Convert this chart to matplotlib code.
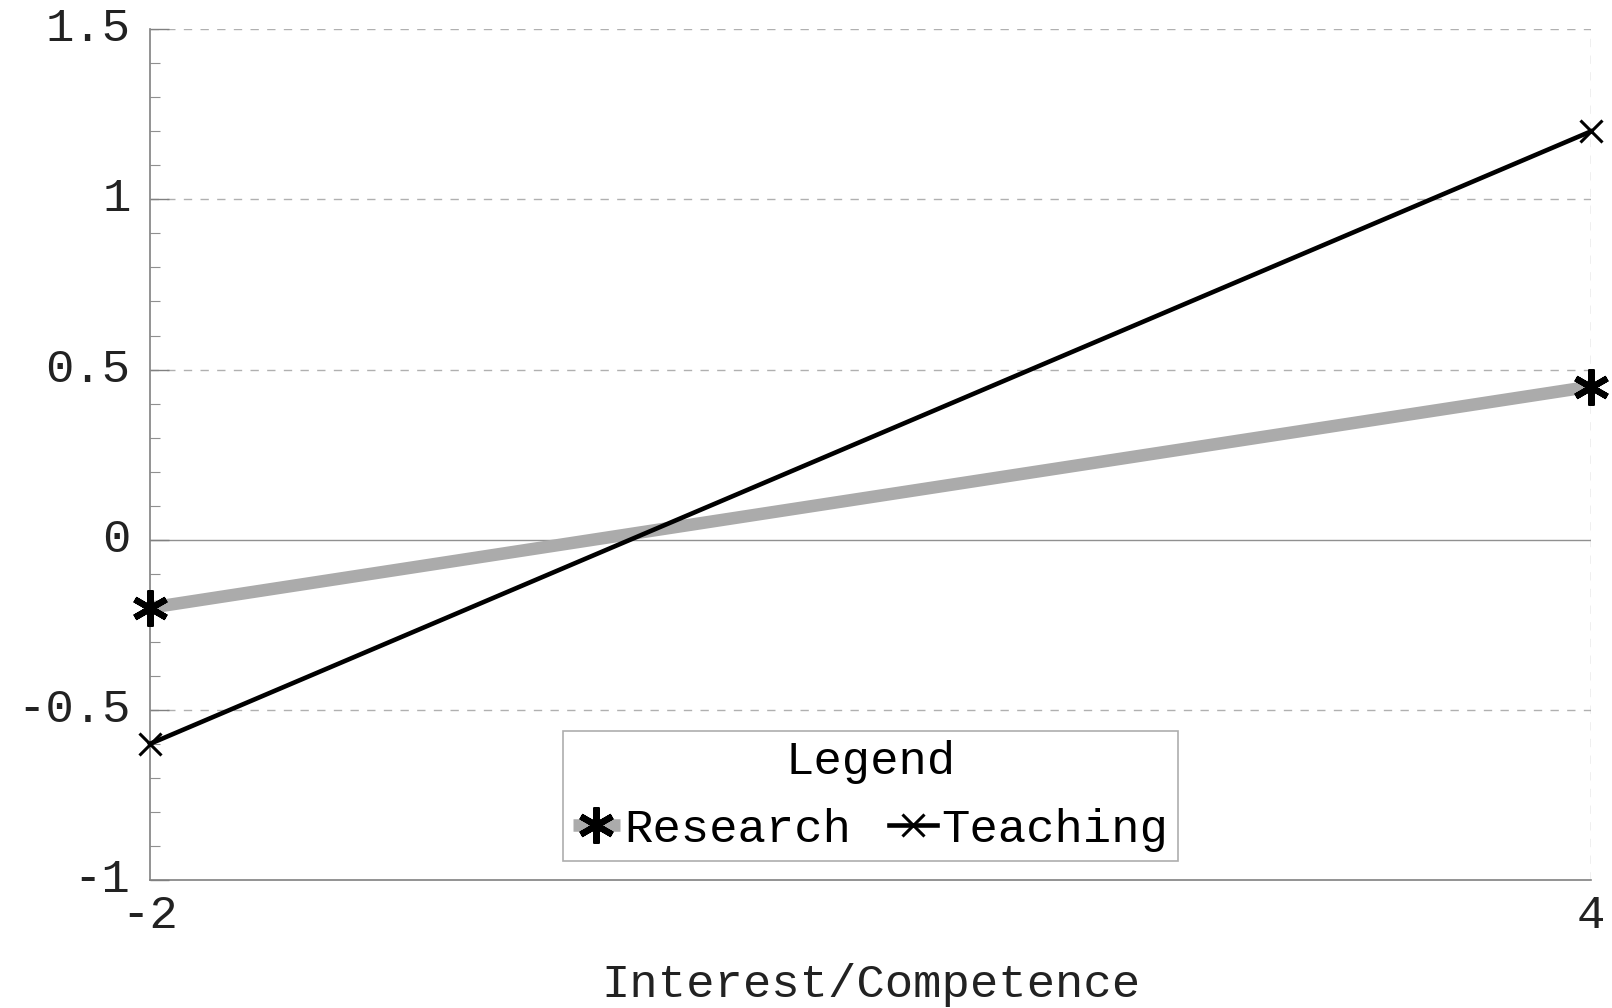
import numpy as np
import matplotlib.pyplot as plt
from matplotlib.ticker import MultipleLocator

# data
x_vals = [-2, 4]
research = [-0.2, 0.45]
teaching = [-0.6, 1.2]
y_ticks = [-1, -0.5, 0, 0.5, 1, 1.5]
y_labels = ["-1", "-0.5", "0", "0.5", "1", "1.5"]
x_ticks = [-2, 4]
x_labels = ["-2", "4"]

plt.rcParams['font.family'] = ['Liberation Mono', 'DejaVu Sans']

fig = plt.figure(figsize=(16.12, 10.08), dpi=100)
ax = fig.add_axes([0.093, 0.127, 0.894, 0.844])

# grid lines: dashed light gray, solid at zero
for yv in [0.5, 1.0, 1.5, -0.5]:
    ax.axhline(yv, color='#b0b0b0', lw=1.0, ls=(0, (6, 6)), zorder=1)
ax.axhline(0, color='#909090', lw=1.0, zorder=1)
ax.axvline(4, color='#b0b0b0', lw=1.0, ls=(0, (6, 6)), zorder=1)

ax.plot(x_vals, research, color='#ababab', lw=9, solid_capstyle='butt',
        marker=(6, 2, 0), markersize=26, markeredgewidth=4.5,
        markeredgecolor='black', markerfacecolor='black', label='Research',
        zorder=3, clip_on=False)
ax.plot(x_vals, teaching, color='black', lw=3.3,
        marker='x', markersize=16, markeredgewidth=2.2,
        markeredgecolor='black', label='Teaching', zorder=4, clip_on=False)

ax.set_xlim(-2, 4)
ax.set_ylim(-1, 1.5)
ax.set_xticks(x_ticks)
ax.set_xticklabels(x_labels)
ax.set_yticks(y_ticks)
ax.set_yticklabels(y_labels, va='center')
ax.yaxis.set_minor_locator(MultipleLocator(0.1))

for s in ['top', 'right']:
    ax.spines[s].set_visible(False)
for s in ['left', 'bottom']:
    ax.spines[s].set_color('#808080')
    ax.spines[s].set_linewidth(1.2)

ax.tick_params(axis='y', which='major', direction='in', length=14, width=1,
               color='#808080', labelsize=34, pad=14, labelcolor='#222222')
ax.tick_params(axis='y', which='minor', direction='in', length=7, width=0.8,
               color='#909090')
ax.tick_params(axis='x', which='major', direction='in', length=0,
               labelsize=34, pad=10, labelcolor='#222222')

ax.set_xlabel("Interest/Competence", fontsize=34, labelpad=18, color='#222222')

leg = ax.legend(title='Legend', loc='lower center', bbox_to_anchor=(0.5, 0.022),
                borderaxespad=0, ncol=2, fontsize=34, title_fontsize=34,
                handlelength=1.0, handletextpad=0.1, columnspacing=0.8,
                frameon=True, fancybox=False, edgecolor='#999999',
                borderpad=0.2, labelspacing=0.5)
leg.get_frame().set_linewidth(1.2)

fig.savefig('out.png', dpi=100, facecolor='white')
